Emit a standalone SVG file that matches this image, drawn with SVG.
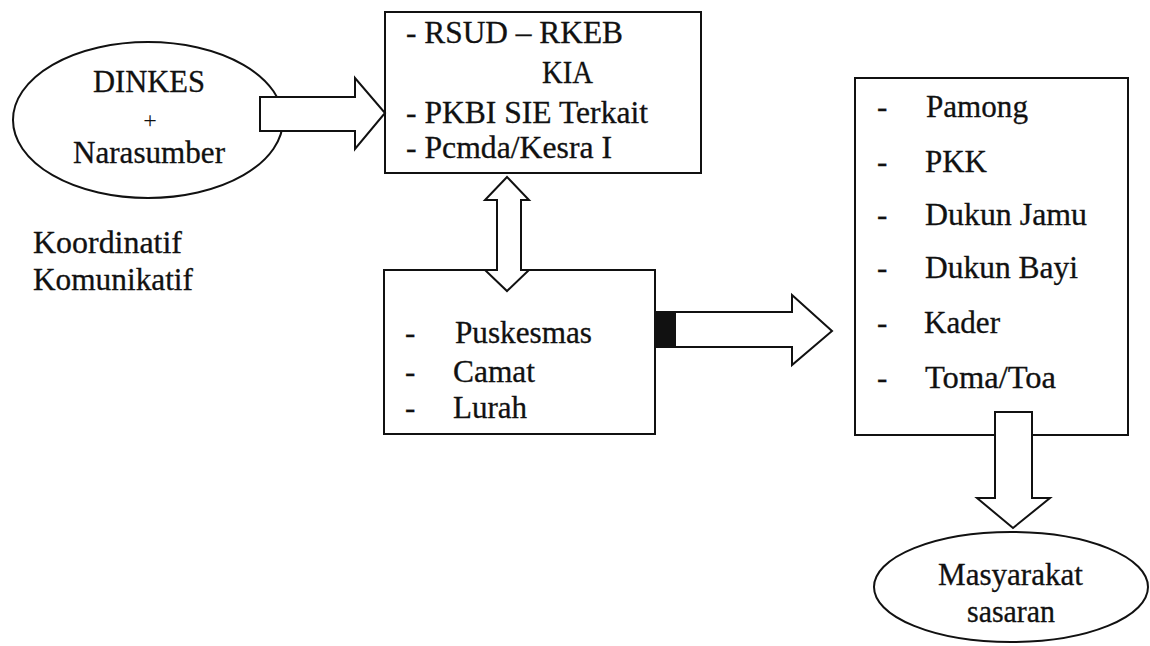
<svg xmlns="http://www.w3.org/2000/svg" width="1150" height="646" viewBox="0 0 1150 646">
<style>
.t{font-family:"Liberation Serif","Times New Roman",serif;font-size:31px;fill:#111;stroke:#111;stroke-width:0.3}
.p{font-family:"Liberation Serif","Times New Roman",serif;font-size:24px;fill:#111}
.s{fill:#fff;stroke:#111;stroke-width:2}
.a{fill:#fff;stroke:#111;stroke-width:2;stroke-linejoin:miter}
</style>
<rect width="1150" height="646" fill="#fff"/>
<g id="dinkes">
<ellipse class="s" cx="148" cy="120" rx="135" ry="78"/>
<text class="t" x="149" y="92" text-anchor="middle" textLength="112" lengthAdjust="spacingAndGlyphs">DINKES</text>
<text class="p" x="150" y="128" text-anchor="middle">+</text>
<text class="t" x="149" y="163" text-anchor="middle" textLength="152" lengthAdjust="spacingAndGlyphs">Narasumber</text>
</g>
<g id="koordinatif">
<text class="t" x="33" y="253" textLength="149" lengthAdjust="spacingAndGlyphs">Koordinatif</text>
<text class="t" x="33" y="290" textLength="160" lengthAdjust="spacingAndGlyphs">Komunikatif</text>
</g>
<g id="rsud">
<rect class="s" x="385" y="12" width="316" height="161"/>
<text class="t" x="406" y="43" textLength="217" lengthAdjust="spacingAndGlyphs">- RSUD – RKEB</text>
<text class="t" x="542" y="83" textLength="51" lengthAdjust="spacingAndGlyphs">KIA</text>
<text class="t" x="406" y="123" textLength="242" lengthAdjust="spacingAndGlyphs">- PKBI SIE Terkait</text>
<text class="t" x="406" y="158" textLength="206" lengthAdjust="spacingAndGlyphs">- Pcmda/Kesra I</text>
</g>
<g id="puskesmas">
<rect class="s" x="384" y="270" width="271" height="164"/>
<text class="t" x="405" y="343">-</text>
<text class="t" x="455" y="343" textLength="137" lengthAdjust="spacingAndGlyphs">Puskesmas</text>
<text class="t" x="405" y="382">-</text>
<text class="t" x="453" y="382" textLength="82" lengthAdjust="spacingAndGlyphs">Camat</text>
<text class="t" x="405" y="418">-</text>
<text class="t" x="453" y="418" textLength="74" lengthAdjust="spacingAndGlyphs">Lurah</text>
</g>
<g id="pamong">
<rect class="s" x="855" y="78" width="273" height="357"/>
<text class="t" x="877" y="117">-</text>
<text class="t" x="926" y="117" textLength="102" lengthAdjust="spacingAndGlyphs">Pamong</text>
<text class="t" x="877" y="172">-</text>
<text class="t" x="925" y="172" textLength="62" lengthAdjust="spacingAndGlyphs">PKK</text>
<text class="t" x="877" y="225">-</text>
<text class="t" x="925" y="225" textLength="162" lengthAdjust="spacingAndGlyphs">Dukun Jamu</text>
<text class="t" x="877" y="278">-</text>
<text class="t" x="925" y="278" textLength="153" lengthAdjust="spacingAndGlyphs">Dukun Bayi</text>
<text class="t" x="877" y="333">-</text>
<text class="t" x="924" y="333" textLength="76" lengthAdjust="spacingAndGlyphs">Kader</text>
<text class="t" x="877" y="388">-</text>
<text class="t" x="925" y="388" textLength="131" lengthAdjust="spacingAndGlyphs">Toma/Toa</text>
</g>
<g id="masyarakat">
<ellipse class="s" cx="1011" cy="587" rx="137" ry="55"/>
<text class="t" x="938" y="585" textLength="145" lengthAdjust="spacingAndGlyphs">Masyarakat</text>
<text class="t" x="967" y="622" textLength="88" lengthAdjust="spacingAndGlyphs">sasaran</text>
</g>
<g id="connectors">
<polygon class="a" points="260,97 355,97 355,78 385,113 355,149 355,131 260,131"/>
<polygon class="a" points="507,177 529,200 521,200 521,270 529,270 507,291 485,270 497,270 497,200 485,200"/>
<polygon class="a" points="656,312 792,312 792,295 832,331 792,365 792,347 656,347"/>
<rect x="656" y="311" width="20" height="37" fill="#111"/>
<polygon class="a" points="995,412 1032,412 1032,498 1050,498 1013,528 977,498 995,498"/>
</g>
</svg>
